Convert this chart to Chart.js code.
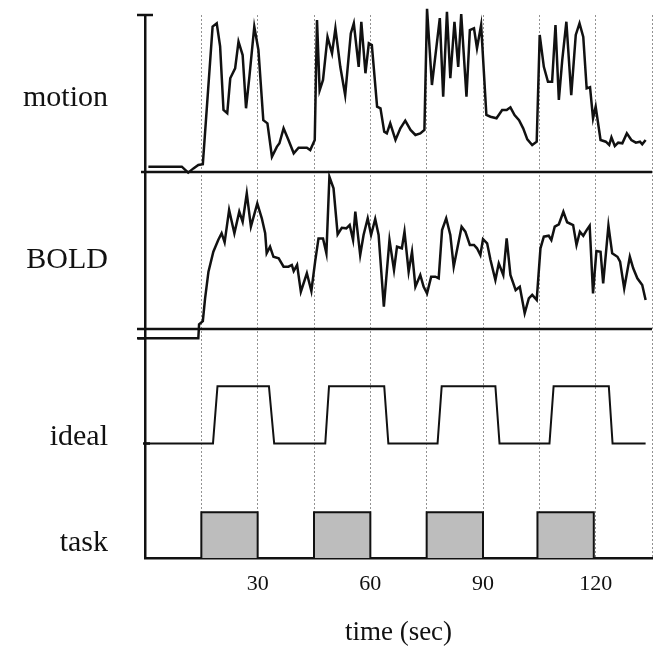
<!DOCTYPE html>
<html>
<head>
<meta charset="utf-8">
<script src="https://cdn.jsdelivr.net/npm/chart.js@4.4.1/dist/chart.umd.min.js"></script>
<style>
  html, body { margin: 0; padding: 0; background: #fff; overflow: hidden; }
  #wrap { width: 653px; height: 649px; }
  #fmriChart { display: block; }
</style>
</head>
<body>
<div id="wrap"><canvas id="fmriChart"></canvas></div>
<script>
// Motion trace (sec, arbitrary units)
const motionTime = [0.9, 9.8, 11.5, 12.9, 14.2, 15.4, 18.0, 19.1, 20.0, 20.9, 21.9, 22.7, 24.0, 24.9, 26.0, 26.9, 27.8, 29.1, 30.2, 31.5,
  32.6, 33.8, 35.1, 35.8, 36.9, 38.2, 39.6, 40.9, 43.1, 44.0, 45.2, 45.8, 46.5, 47.4, 48.6, 49.8, 50.7, 52.0, 53.3, 54.8,
  55.6, 56.9, 57.6, 58.7, 59.6, 60.4, 61.8, 62.7, 63.7, 64.4, 65.3, 66.7, 68.0, 69.3, 70.7, 72.0, 73.3, 74.4, 75.1, 76.4,
  78.5, 79.4, 80.4, 81.3, 82.4, 83.4, 84.2, 85.6, 86.5, 87.6, 88.4, 89.5, 90.9, 92.0, 93.6, 95.1, 96.3, 97.3, 98.4, 99.6,
  100.7, 101.8, 103.1, 104.3, 105.1, 106.2, 107.3, 108.4, 109.3, 110.2, 111.1, 112.2, 113.5, 114.7, 115.7, 116.7, 117.6, 118.5, 119.3, 120.0,
  121.3, 122.7, 123.6, 124.2, 125.1, 126.0, 127.1, 128.3, 129.5, 130.7, 131.8, 132.4, 133.3];
const motionValue = [3.4, 3.4, -0.4, 2.3, 4.5, 5, 92.6, 94.7, 80, 39.5, 37.4, 59.7, 66, 83, 74.5, 40.6, 60.7, 92.6, 77.7, 33,
  31, 9.7, 16, 18.3, 27.8, 20.4, 11.9, 15.5, 15.5, 14, 20.4, 96.8, 52, 58.6, 86, 75.6, 91.5, 67, 49, 88.3,
  94.7, 67, 95.7, 62.9, 82, 80.9, 41.6, 40.6, 25.7, 24.6, 31, 20.4, 27.8, 32.7, 26.8, 23.6, 24.6, 26.8, 104, 55.4,
  98, 48, 102, 59.7, 95.7, 67, 100.6, 48, 90.4, 91.5, 78.8, 93.6, 36.3, 35.2, 34.2, 39.5, 39.5, 41.2, 36.3, 33,
  27.8, 20.8, 17.2, 19.3, 87.3, 67, 57.5, 57.5, 93.6, 45.9, 71.3, 95.7, 49, 87.3, 94.7, 86, 53.3, 54, 34.2, 41.6,
  20.4, 19.3, 17.2, 22.1, 16.6, 18.7, 18.3, 24.6, 20.4, 18.7, 19.3, 17.6, 20.4];

// BOLD signal
const boldTime = [-1.9, 14.2, 14.4, 15.4, 16.0, 16.9, 18.2, 19.5, 20.4, 21.2, 22.4, 23.8, 25.1, 26.0, 27.1, 28.2, 29.9, 31.1, 32.0, 32.4,
  33.3, 34.2, 35.6, 36.9, 38.2, 39.1, 39.6, 40.5, 41.5, 43.1, 44.3, 45.3, 46.2, 47.4, 48.3, 49.1, 50.2, 51.3, 52.4, 53.6,
  54.5, 55.4, 56.0, 57.3, 58.2, 59.3, 60.2, 61.3, 62.2, 63.6, 65.1, 66.3, 67.1, 68.4, 69.1, 70.2, 71.1, 72.0, 73.3, 74.2,
  75.1, 76.2, 77.3, 78.2, 79.1, 80.2, 81.3, 82.2, 84.3, 85.3, 86.5, 87.6, 88.4, 89.3, 90.0, 91.1, 92.0, 93.3, 94.2, 95.4,
  96.3, 97.3, 98.7, 99.8, 101.1, 102.2, 103.1, 104.3, 105.3, 106.2, 107.5, 108.2, 109.1, 110.2, 111.4, 112.4, 114.0, 114.9, 115.8, 116.7,
  117.6, 118.4, 119.3, 120.2, 121.3, 122.0, 123.4, 124.4, 125.8, 126.5, 127.6, 129.1, 130.0, 131.1, 132.4, 133.3];
const boldValue = [-5.9, -5.9, 3, 5, 19.5, 36.5, 49.2, 56.7, 61, 55.2, 75.8, 61, 74.7, 68.3, 86.4, 65.2, 80, 70.5, 61, 48.2,
  52.4, 46, 45, 39.7, 39.7, 40.8, 36.9, 40.8, 23.8, 35.5, 24.2, 42.9, 57.7, 57.7, 48.2, 97, 89.6, 60.3, 64.5, 64.1,
  66.2, 56.7, 74.7, 47.1, 59.9, 70.5, 59.9, 70.1, 59.9, 14.2, 56.7, 37.6, 52.4, 51.4, 62, 36.5, 49.2, 26.9, 34.4, 26.9,
  22.7, 33.3, 33.3, 32.3, 63, 70.5, 59.9, 39.7, 65.2, 62, 53.5, 53.5, 51.4, 47.1, 57.3, 54.6, 43.9, 31.2, 41.8, 34.4,
  57.7, 34.4, 24.8, 26.9, 10, 19.5, 21.7, 18.5, 51.4, 58.8, 59.4, 56.7, 65.2, 66.7, 74.7, 68, 66.2, 53.5, 62, 59.4,
  63, 65.8, 22.7, 49.7, 49.2, 29.1, 65.8, 48.2, 46, 42.9, 25.9, 46, 38.7, 32.3, 28, 18.5];

// ideal response (lower panel units)
const idealTime = [0, 18.1, 19.3, 33.0, 34.4, 48.0, 49.0, 63.7, 64.8, 77.9, 79.0, 93.3, 94.4, 107.7, 108.8, 123.5, 124.5, 133.3];
const idealValue = [5, 5, 7.5, 7.5, 5, 5, 7.5, 7.5, 5, 5, 7.5, 7.5, 5, 5, 7.5, 7.5, 5, 5];

// task blocks
const taskStart = [15, 45, 75, 104.5];
const taskEnd = [30, 60, 90, 119.5];
const taskLevel = 2;

const xTicks = [30, 60, 90, 120];
const panelLabels = [
  { text: 'motion', axis: 'yMotion', at: 47 },
  { text: 'BOLD', axis: 'yBold', at: 44 },
  { text: 'ideal', axis: 'yLower', at: 5.3 },
  { text: 'task', axis: 'yLower', at: 0.65 }
];

const toPoints = (xs, ys) => xs.map((x, i) => ({ x: x, y: ys[i] }));

let taskPoints = [];
taskStart.forEach((s, i) => {
  taskPoints.push({ x: s, y: 0 }, { x: s, y: taskLevel }, { x: taskEnd[i], y: taskLevel }, { x: taskEnd[i], y: 0 });
});

const serif = "'Liberation Serif', 'Times New Roman', serif";

// separators, little axis ticks and the row labels
const panelDecor = {
  id: 'panelDecor',
  afterDraw(chart) {
    const { ctx, chartArea, scales } = chart;
    const left = chartArea.left, right = chartArea.right;
    const line = (x1, y1, x2, y2) => {
      ctx.beginPath(); ctx.moveTo(x1, y1); ctx.lineTo(x2, y2); ctx.stroke();
    };
    ctx.save();
    ctx.strokeStyle = '#111';
    ctx.lineWidth = 2.5;
    const yTop = scales.yMotion.getPixelForValue(100);
    const yMotionBottom = scales.yMotion.getPixelForValue(0);
    const yBoldBottom = scales.yBold.getPixelForValue(0);
    const yBreak = scales.yBold.getPixelForValue(boldValue[0]);
    const yIdeal = scales.yLower.getPixelForValue(idealValue[0]);
    line(left - 8, yTop, left + 8, yTop);
    line(left - 4, yMotionBottom, right, yMotionBottom);
    line(left - 8, yBoldBottom, right, yBoldBottom);
    line(left - 8, yBreak, left, yBreak);
    line(left - 2, yIdeal, left + 5, yIdeal);

    ctx.fillStyle = '#111';
    ctx.font = '30px ' + serif;
    ctx.textAlign = 'right';
    ctx.textBaseline = 'middle';
    panelLabels.forEach(l => {
      ctx.fillText(l.text, left - 37, scales[l.axis].getPixelForValue(l.at));
    });
    ctx.restore();
  }
};

const ctx = document.getElementById('fmriChart').getContext('2d');

const fmriChart = new Chart(ctx, {
  type: 'line',
  data: {
    datasets: [
      {
        label: 'motion',
        data: toPoints(motionTime, motionValue),
        yAxisID: 'yMotion',
        borderColor: '#111',
        borderWidth: 2.5,
        pointRadius: 0,
        tension: 0,
        clip: false
      },
      {
        label: 'BOLD',
        data: toPoints(boldTime, boldValue),
        yAxisID: 'yBold',
        borderColor: '#111',
        borderWidth: 2.5,
        pointRadius: 0,
        tension: 0,
        clip: false
      },
      {
        label: 'ideal',
        data: toPoints(idealTime, idealValue),
        yAxisID: 'yLower',
        borderColor: '#111',
        borderWidth: 2,
        pointRadius: 0,
        tension: 0
      },
      {
        label: 'task',
        data: taskPoints,
        yAxisID: 'yLower',
        borderColor: '#111',
        borderWidth: 2,
        backgroundColor: '#bdbdbd',
        fill: 'origin',
        pointRadius: 0,
        tension: 0
      }
    ]
  },
  options: {
    responsive: true,
    maintainAspectRatio: false,
    animation: false,
    layout: { padding: { left: 145, right: 1, top: 15, bottom: 0 } },
    plugins: {
      legend: { display: false },
      tooltip: { enabled: false }
    },
    scales: {
      x: {
        type: 'linear',
        min: 0,
        max: 135,
        afterBuildTicks: (axis) => {
          axis.ticks = [];
          for (let v = 0; v <= 135; v += 15) axis.ticks.push({ value: v });
        },
        afterFit: (axis) => {
          axis.height = 91;
          axis.paddingRight = 0;
        },
        ticks: {
          color: '#111',
          font: { family: serif, size: 22 },
          padding: 13,
          maxRotation: 0,
          autoSkip: false,
          callback: (v) => xTicks.includes(v) ? String(v) : ''
        },
        grid: {
          drawTicks: false,
          color: (c) => c.tick && c.tick.value === 0 ? 'rgba(0,0,0,0)' : 'rgba(110,110,110,0.75)',
          lineWidth: 1
        },
        border: { color: '#111', width: 2.5, dash: [2, 2] },
        title: {
          display: true,
          text: 'time (sec)',
          color: '#111',
          font: { family: serif, size: 27 },
          padding: { top: 0, bottom: 0 }
        }
      },
      yLower: {
        position: 'left',
        stack: 'panels',
        stackWeight: 229,
        min: 0,
        max: 10,
        ticks: { display: false },
        grid: { display: false, drawTicks: false },
        border: { color: '#111', width: 2.5 }
      },
      yBold: {
        position: 'left',
        stack: 'panels',
        stackWeight: 157,
        min: 0,
        max: 100,
        ticks: { display: false },
        grid: { display: false, drawTicks: false },
        border: { color: '#111', width: 2.5 }
      },
      yMotion: {
        position: 'left',
        stack: 'panels',
        stackWeight: 157,
        min: 0,
        max: 100,
        ticks: { display: false },
        grid: { display: false, drawTicks: false },
        border: { color: '#111', width: 2.5 }
      }
    }
  },
  plugins: [panelDecor]
});
</script>
</body>
</html>
